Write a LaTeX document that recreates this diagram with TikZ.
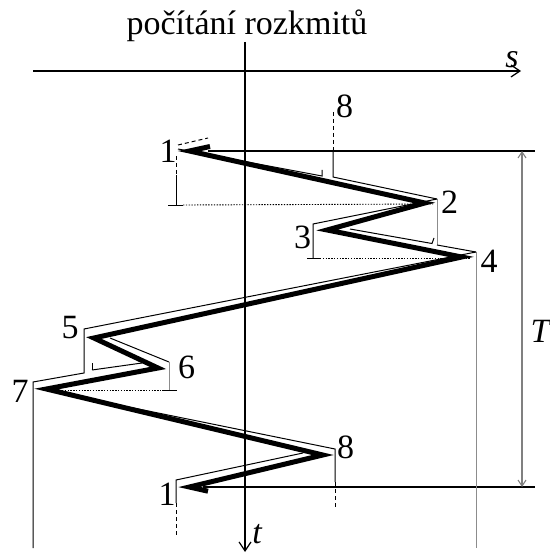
\documentclass[tikz,border=0pt]{standalone}
\usepackage{fontspec}
\setmainfont{Liberation Serif}
\usetikzlibrary{arrows.meta}
\begin{document}
\begin{tikzpicture}[x=1pt,y=-1pt,
  heavy/.style={line width=5pt,line join=miter,miter limit=12},
  thinline/.style={line width=1pt},
  greyline/.style={line width=1pt,draw=black!45},
  axisline/.style={line width=1.2pt},
  dotline/.style={line width=0.9pt,dash pattern=on 1.4pt off 1.4pt},
  dashline/.style={line width=1pt,dash pattern=on 4pt off 3pt},
  lbl/.style={font=\fontsize{34}{40}\selectfont,inner sep=0pt,anchor=base}
]
\useasboundingbox (0,0) rectangle (549,553);

% axes
\coordinate (sx0) at (33,71);
\coordinate (sx1) at (521,71);
\coordinate (tx0) at (245,42);
\coordinate (tx1) at (245,552);
\draw[axisline,-{Straight Barb[length=9pt,width=12pt]}] (sx0) -- (sx1);
\draw[axisline,-{Straight Barb[length=9pt,width=12pt]}] (tx0) -- (tx1);

% horizontal limits and period T
\coordinate (h1a) at (208,151); \coordinate (h1b) at (535,151);
\coordinate (h2a) at (203,487); \coordinate (h2b) at (535,487);
\draw[line width=1.1pt] (h1a) -- (h1b);
\draw[line width=1.1pt] (h2a) -- (h2b);
\coordinate (ta) at (522,151); \coordinate (tb) at (522,487);
\draw[line width=1.1pt,draw=black!50,{Straight Barb[length=6pt,width=8pt]}-{Straight Barb[length=6pt,width=8pt]}] (ta) -- (tb);

% rainflow thin lines
% top 1
\coordinate (a1) at (176,156); \coordinate (a2) at (176,175); \coordinate (a3) at (176,205);
\coordinate (a4) at (168,205); \coordinate (a5) at (183,205); \coordinate (a6) at (433,204);
\draw[dashline] (a1) -- (a2);
\draw[thinline] (a2) -- (a3);
\draw[thinline] (a4) -- (a5);
\draw[dotline] (a5) -- (a6);
\coordinate (d1) at (178,145); \coordinate (d2) at (208,138);
\draw[dashline] (d1) -- (d2);
% roof 1-2
\coordinate (b1) at (178,149); \coordinate (b2) at (322,176); \coordinate (b3) at (322,170);
\draw[thinline] (b1) -- (b2) -- (b3);
% top 8
\coordinate (c1) at (333,112); \coordinate (c2) at (333,150); \coordinate (c3) at (333,177);
\coordinate (c4) at (437,199);
\draw[dashline] (c1) -- (c2);
\draw[thinline] (c2) -- (c3) -- (c4);
% at 2
\coordinate (e1) at (437,245);
\draw[greyline] (c4) -- (e1);
% roof 2-3 and 3
\coordinate (f1) at (313,224); \coordinate (f2) at (313,258);
\coordinate (f3) at (307,258); \coordinate (f4) at (320,258); \coordinate (f5) at (470,258);
\draw[thinline] (c4) -- (f1) -- (f2);
\draw[thinline] (f3) -- (f4);
\draw[dotline] (f4) -- (f5);
% inner 3-4
\coordinate (g1) at (350,229); \coordinate (g2) at (432,243.5); \coordinate (g3) at (434,238);
\draw[thinline] (g1) -- (g2) -- (g3);
\coordinate (g4) at (476,252);
\draw[thinline] (e1) -- (g4);
\coordinate (g5) at (476,548);
\draw[greyline] (g4) -- (g5);
% roof 4-5
\coordinate (k1) at (84,329); \coordinate (k2) at (84,373); \coordinate (k3) at (33,382);
\coordinate (k4) at (33,548);
\draw[thinline] (g4) -- (k1) -- (k2) -- (k3) -- (k4);
% inner 5-6
\coordinate (m1) at (110,338); \coordinate (m2) at (169,362); \coordinate (m3) at (169,390);
\coordinate (m4) at (162,390); \coordinate (m5) at (177,390); \coordinate (m6) at (48,390);
\draw[thinline] (m1) -- (m2);
\draw[greyline] (m2) -- (m3);
\draw[thinline] (m4) -- (m5);
\draw[dotline] (m6) -- (m4);
% inner 6-7
\coordinate (n1) at (92,363); \coordinate (n2) at (92,370); \coordinate (n3) at (142,363);
\draw[thinline] (n1) -- (n2);
\draw[thinline] (n2) -- (n3);
% roof 7-8
\coordinate (q1) at (50,391); \coordinate (q2) at (335,449); \coordinate (q3) at (335,482);
\coordinate (q4) at (335,508);
\draw[thinline] (q1) -- (q2) -- (q3);
\draw[dashline] (q3) -- (q4);
% inner 8-1
\coordinate (r1) at (303,453); \coordinate (r2) at (176,480); \coordinate (r3) at (176,503);
\coordinate (r4) at (176,537);
\draw[thinline] (r1) -- (r2) -- (r3);
\draw[dashline] (r3) -- (r4);

% thick load path
\coordinate (s0) at (210,146.5);
\coordinate (p1) at (189.4,151);
\coordinate (p2) at (424.8,203);
\coordinate (p3) at (327.1,230);
\coordinate (p4) at (461.7,257);
\coordinate (p5) at (93.9,338);
\coordinate (p6) at (158,368);
\coordinate (p7) at (46.4,389);
\coordinate (p8) at (322.8,455);
\coordinate (p9) at (189.4,487);
\coordinate (s9) at (208,491.2);
\draw[heavy] (s0) -- (p1) -- (p2) -- (p3) -- (p4) -- (p5) -- (p6) -- (p7) -- (p8) -- (p9) -- (s9);

% labels
\node[lbl] (title) at (247,35) {počítání rozkmitů};
\node[lbl] (ls) at (512,68) {\itshape s};
\node[lbl] (lt) at (257,543) {\itshape t};
\node[lbl] (lT) at (540,342) {\itshape T};
\node[lbl] (l1) at (168,163) {1};
\node[lbl] (l8a) at (344.5,118) {8};
\node[lbl] (l2) at (449.5,213) {2};
\node[lbl] (l3) at (302.5,248) {3};
\node[lbl] (l4) at (489,272) {4};
\node[lbl] (l5) at (70,338) {5};
\node[lbl] (l6) at (186.5,378) {6};
\node[lbl] (l7) at (20,402) {7};
\node[lbl] (l8b) at (345.5,458) {8};
\node[lbl] (l1b) at (167,505) {1};
\end{tikzpicture}
\end{document}
